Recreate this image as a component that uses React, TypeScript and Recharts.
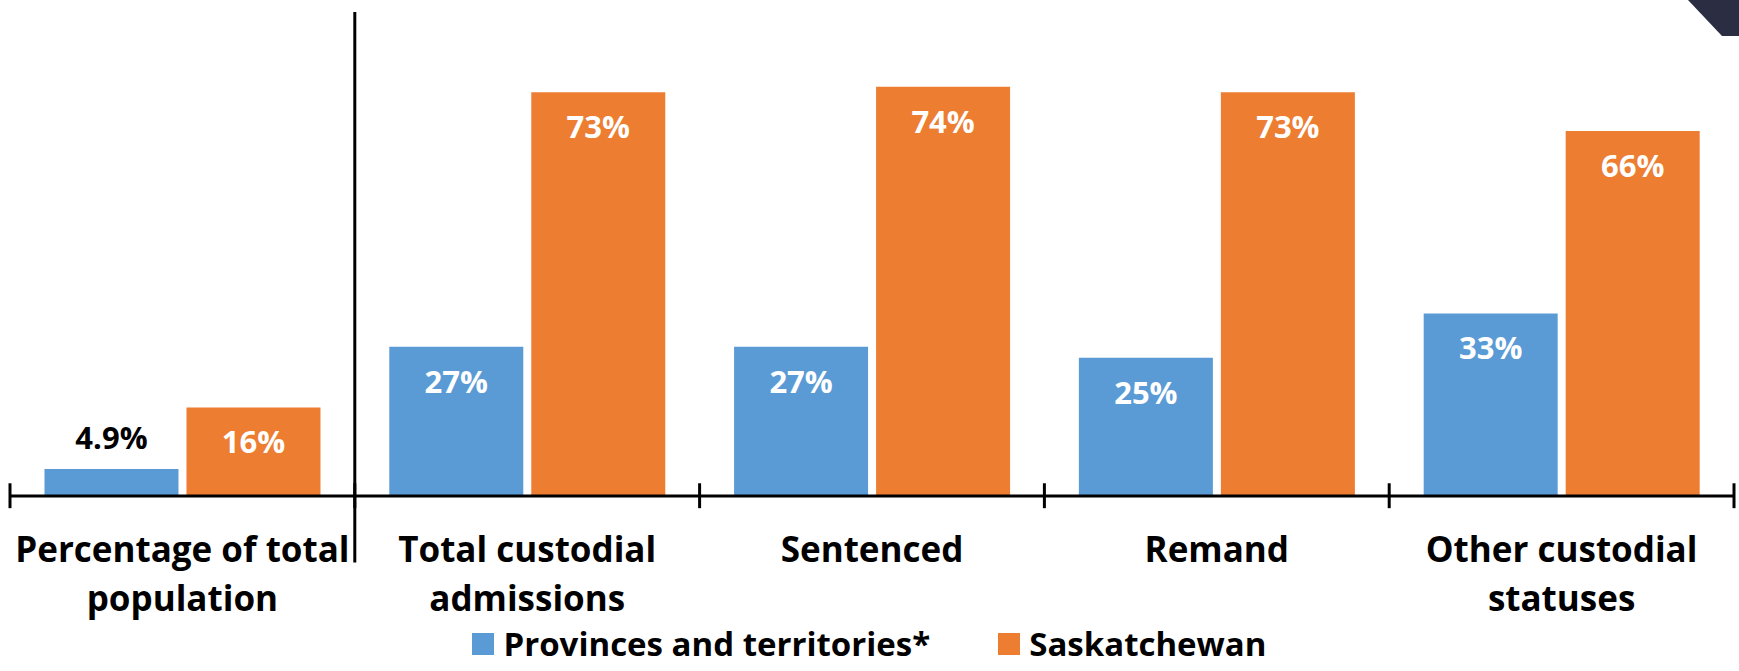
import React from 'react'
import { BarChart, Bar, XAxis, YAxis, Legend, LabelList, ReferenceLine } from 'recharts'

const categories = [
  ['Percentage of total', 'population'],
  ['Total custodial', 'admissions'],
  ['Sentenced'],
  ['Remand'],
  ['Other custodial', 'statuses'],
]
const provinces = [4.9, 27, 27, 25, 33]
const saskatchewan = [16, 73, 74, 73, 66]

const data = categories.map((lines, i) => ({
  name: lines.join(' '),
  lines,
  provinces: provinces[i],
  saskatchewan: saskatchewan[i],
}))

const FONT = '"Open Sans", sans-serif'
const BLUE = '#5b9bd5'
const ORANGE = '#ed7d31'

const fmt = (v: number) => (Number.isInteger(v) ? `${v}%` : `${v.toFixed(1)}%`)

// band labels, one or two lines under the axis
function CategoryTick(props: any) {
  const { x, y, index } = props
  const lines: string[] = data[index]?.lines ?? []
  return (
    <text x={x} y={y + 58} textAnchor="middle" fontFamily={FONT} fontWeight={700} fontSize={35} fill="#000">
      {lines.map((l, i) => (
        <tspan key={i} x={x} dy={i === 0 ? 0 : 49}>
          {l}
        </tspan>
      ))}
    </text>
  )
}

// values inside the top of the bar, or above it in black when the bar is short
function ValueLabel(props: any) {
  const { x, y, width, value } = props
  const short = value < 10
  return (
    <text
      x={x + width / 2}
      y={short ? y - 20 : y + 46}
      textAnchor="middle"
      fontFamily={FONT}
      fontWeight={700}
      fontSize={31}
      fill={short ? '#000' : '#fff'}
    >
      {fmt(value)}
    </text>
  )
}

function LegendContent(props: any) {
  const { payload = [] } = props
  return (
    <div
      style={{
        display: 'flex',
        justifyContent: 'center',
        alignItems: 'center',
        fontFamily: FONT,
        fontWeight: 700,
        fontSize: 33,
        lineHeight: '40px',
        color: '#000',
      }}
    >
      {payload.map((entry: any, i: number) => (
        <div key={entry.value} style={{ display: 'flex', alignItems: 'center', marginLeft: i ? 68 : 0 }}>
          <span style={{ width: 22, height: 22, background: entry.color, marginRight: 9, display: 'inline-block' }} />
          <span>{entry.value}</span>
        </div>
      ))}
    </div>
  )
}

export default function App() {
  const last = data[data.length - 1].name
  return (
    <div style={{ position: 'absolute', left: 0, top: 0, width: 1739, height: 671, background: '#fff' }}>
      <BarChart
        width={1739}
        height={671}
        data={data}
        margin={{ top: 12, right: 5, left: 10, bottom: 145 }}
        barCategoryGap="10%"
        barGap={8}
      >
        <XAxis
          dataKey="name"
          height={30}
          axisLine={{ stroke: '#000', strokeWidth: 3 }}
          tickLine={false}
          interval={0}
          tick={<CategoryTick />}
        />
        <YAxis hide domain={[0, 87.5]} allowDataOverflow />
        <Legend
          verticalAlign="middle"
          align="center"
          layout="horizontal"
          content={<LegendContent />}
          wrapperStyle={{ top: 624, left: 0, width: 1739 }}
        />
        <Bar dataKey="provinces" name="Provinces and territories*" fill={BLUE} isAnimationActive={false}>
          <LabelList dataKey="provinces" content={<ValueLabel />} />
        </Bar>
        <Bar dataKey="saskatchewan" name="Saskatchewan" fill={ORANGE} isAnimationActive={false}>
          <LabelList dataKey="saskatchewan" content={<ValueLabel />} />
        </Bar>
        {data.map((d) => (
          <ReferenceLine
            key={d.name}
            position="start"
            segment={[{ x: d.name, y: 2.3 }, { x: d.name, y: -2.2 }]}
            stroke="#000"
            strokeWidth={3}
            ifOverflow="visible"
          />
        ))}
        <ReferenceLine
          position="end"
          segment={[{ x: last, y: 2.3 }, { x: last, y: -2.2 }]}
          stroke="#000"
          strokeWidth={3}
          ifOverflow="visible"
        />
        <ReferenceLine
          position="start"
          segment={[{ x: data[1].name, y: 87.5 }, { x: data[1].name, y: -12 }]}
          stroke="#000"
          strokeWidth={3}
          ifOverflow="visible"
        />
      </BarChart>
      <svg width={1739} height={671} style={{ position: 'absolute', left: 0, top: 0, pointerEvents: 'none' }}>
        <polygon points="1688,0 1739,0 1739,36 1722,36" fill="#2b2d42" />
      </svg>
    </div>
  )
}
